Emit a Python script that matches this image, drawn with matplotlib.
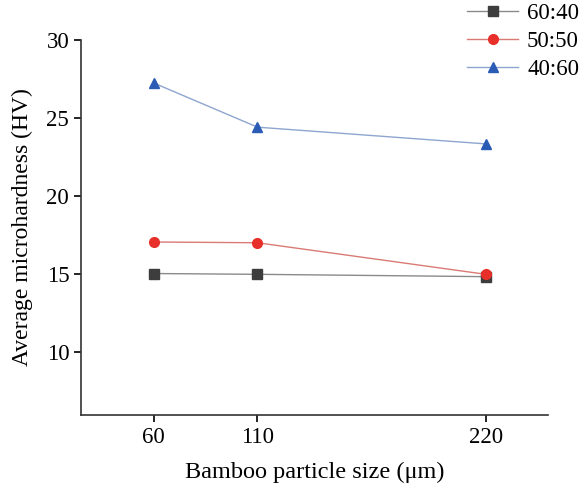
import matplotlib

matplotlib.use("Agg")
import matplotlib.pyplot as plt  # noqa: E402

plt.rcParams["font.family"] = ["Liberation Serif", "DejaVu Serif"]

sizes = [60, 110, 220]
ratio_60_40 = [15.05, 15.0, 14.85]
ratio_50_50 = [17.07, 17.02, 15.0]
ratio_40_60 = [27.25, 24.42, 23.35]

series = [
    ("60:40", ratio_60_40, "s", "#3d3d3d", "#8a8a8a"),
    ("50:50", ratio_50_50, "o", "#e8302a", "#d97a74"),
    ("40:60", ratio_40_60, "^", "#2b5cb5", "#8ea6cf"),
]

fig = plt.figure(figsize=(5.85, 4.91), dpi=100)
ax = fig.add_axes([0.1385, 0.155, 0.7985, 0.7635])

for label, vals, marker, mcolor, lcolor in series:
    ax.plot(sizes, vals, color=lcolor, lw=1.0, marker=marker, ms=7,
            mfc=mcolor, mec=mcolor, label=label)

ax.set_xlim(25, 250)
ax.set_ylim(6, 30)
ax.set_xticks(sizes)
ax.set_yticks([10, 15, 20, 25, 30])
ax.tick_params(labelsize=16.5, length=5, width=1.2, direction="out")
for s in ("top", "right"):
    ax.spines[s].set_visible(False)
for s in ("left", "bottom"):
    ax.spines[s].set_linewidth(1.2)
    ax.spines[s].set_color("#333333")

ax.set_xlabel("Bamboo particle size (μm)", fontsize=17.5, labelpad=10)
ax.set_ylabel("Average microhardness (HV)", fontsize=17, labelpad=10)

fig.legend(loc="upper right", bbox_to_anchor=(1.025, 1.035), frameon=False,
           fontsize=16.5, handlelength=2.2, labelspacing=0.3, handletextpad=0.4)

fig.savefig("out.png", dpi=100)
plt.close(fig)
